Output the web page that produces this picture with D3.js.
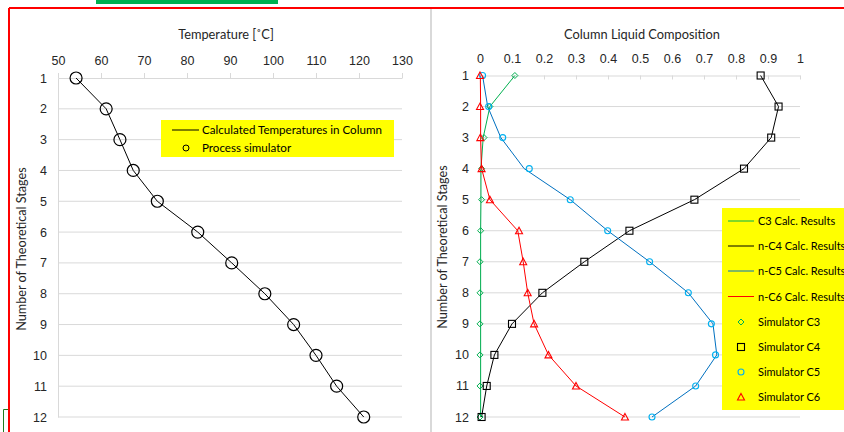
<!DOCTYPE html>
<html lang="en">
<head>
    <meta charset="UTF-8">
    <title>Column Temperature and Liquid Composition</title>
    <style>
        body {
            margin: 0;
            padding: 0;
            background: #fff;
        }

        svg {
            display: block;
            font-family: Lato, "Open Sans", Arial, sans-serif;
        }

        .tick text {
            fill: #262626;
            font-size: 12.5px;
        }

        .grid line, .grid path {
            stroke: #d9d9d9;
        }

        .chart-title, .axis-title {
            fill: #262626;
            font-size: 12.8px;
        }

        .axis-title {
            font-size: 12.6px;
        }

        .legend text {
            fill: #000;
            font-size: 11.6px;
        }

        .legend.comp text {
            font-size: 11px;
        }
    </style>
</head>
<body>
<svg id="chart" width="844" height="432"></svg>

<script src="https://d3js.org/d3.v7.min.js"></script>
<script>
    // ---- data ----
    var stages = [1, 2, 3, 4, 5, 6, 7, 8, 9, 10, 11, 12];

    var tempTicks = [50, 60, 70, 80, 90, 100, 110, 120, 130];
    var tempCalc = [54.2, 61.2, 64.4, 67.5, 73.1, 82.5, 90.4, 98.1, 104.8, 110.0, 114.8, 121.1];
    var tempSim = [54.2, 61.2, 64.4, 67.5, 73.1, 82.5, 90.4, 98.1, 104.8, 110.0, 114.8, 121.1];

    var compTicks = [0, 0.1, 0.2, 0.3, 0.4, 0.5, 0.6, 0.7, 0.8, 0.9, 1];

    var c3Calc = [0.109, 0.031, 0.010, 0.003, 0.003, 0.002, 0.002, 0.002, 0.002, 0.002, 0.002, 0.002];
    var c4Calc = [0.877, 0.933, 0.910, 0.825, 0.670, 0.467, 0.326, 0.195, 0.100, 0.045, 0.021, 0.005];
    var c5Calc = [0.008, 0.024, 0.065, 0.138, 0.282, 0.399, 0.530, 0.651, 0.728, 0.740, 0.674, 0.5375];
    var c6Calc = [0.001, 0.002, 0.002, 0.005, 0.031, 0.118, 0.135, 0.149, 0.169, 0.214, 0.300, 0.453];

    var c3Sim = [0.109, 0.031, 0.0125, 0.005, 0.005, 0.002, 0.0, 0.0, 0.0, 0.0, 0.0, 0.0];
    var c4Sim = [0.877, 0.933, 0.910, 0.825, 0.670, 0.467, 0.326, 0.195, 0.100, 0.045, 0.021, 0.005];
    var c5Sim = [0.008, 0.027, 0.071, 0.154, 0.282, 0.399, 0.530, 0.651, 0.723, 0.736, 0.674, 0.5375];
    var c6Sim = [0.0, 0.0, 0.001, 0.005, 0.031, 0.122, 0.135, 0.149, 0.169, 0.214, 0.300, 0.453];

    var compNames = ["C3 Calc. Results", "n-C4 Calc. Results", "n-C5 Calc. Results", "n-C6 Calc. Results",
        "Simulator C3", "Simulator C4", "Simulator C5", "Simulator C6"];

    var svg = d3.select("#chart");

    // page decorations (sheet borders)
    svg.append("rect").attr("x", 96).attr("y", 0).attr("width", 182).attr("height", 4).attr("fill", "#00b050");
    svg.append("line").attr("x1", 9).attr("x2", 844).attr("y1", 8).attr("y2", 8)
        .attr("stroke", "#ff0000").attr("stroke-width", 2);
    svg.append("line").attr("x1", 9).attr("x2", 9).attr("y1", 8).attr("y2", 432)
        .attr("stroke", "#ff0000").attr("stroke-width", 2);
    svg.append("path").attr("d", "M8,409.5H3.5V432").attr("fill", "none").attr("stroke", "#1e7b1e");
    svg.append("line").attr("x1", 431).attr("x2", 431).attr("y1", 9).attr("y2", 432)
        .attr("stroke", "#d9d9d9").attr("stroke-width", 2);

    function stageAxes(g, x, y, ticks, fmt, tickLen, titleX, titleY) {
        var x0 = x.range()[0], x1 = x.range()[1];
        // horizontal grid lines per stage
        g.append("g").attr("class", "grid")
            .selectAll("line").data(stages.slice(1)).enter().append("line")
            .attr("x1", x0).attr("x2", x1)
            .attr("y1", d => y(d)).attr("y2", d => y(d));

        var top = g.append("g").attr("class", "grid")
            .attr("transform", "translate(0," + y(1) + ")")
            .call(d3.axisTop(x).tickValues(ticks).tickFormat(fmt).tickSizeInner(tickLen).tickSizeOuter(0).tickPadding(tickLen > 0 ? 8 : 13));
        top.selectAll(".tick text").attr("font-family", "inherit");

        var left = g.append("g").attr("class", "grid")
            .attr("transform", "translate(" + x0 + ",0)")
            .call(d3.axisLeft(y).tickValues(stages).tickSize(0).tickPadding(11));
        left.selectAll(".tick text").attr("font-family", "inherit");

        g.append("text").attr("class", "axis-title")
            .attr("transform", "translate(" + titleX + "," + titleY + ") rotate(-90)")
            .attr("text-anchor", "middle")
            .text("Number of Theoretical Stages");
    }

    // ---- left chart: temperature ----
    var xT = d3.scaleLinear().domain([50, 130]).range([58, 402]);
    var yT = d3.scaleLinear().domain([1, 12]).range([78, 417]);
    var left = svg.append("g");
    stageAxes(left, xT, yT, tempTicks, d3.format("d"), 5, 26, 249);

    left.append("text").attr("class", "chart-title")
        .attr("x", 226).attr("y", 39).attr("text-anchor", "middle")
        .text("Temperature [˚C]");

    left.append("path")
        .datum(stages)
        .attr("fill", "none").attr("stroke", "#000").attr("stroke-width", 1)
        .attr("d", d3.line().x((d, i) => xT(tempCalc[i])).y(d => yT(d)));

    left.selectAll(".sim").data(stages).enter().append("circle")
        .attr("cx", (d, i) => xT(tempSim[i])).attr("cy", d => yT(d))
        .attr("r", 6).attr("fill", "none").attr("stroke", "#000").attr("stroke-width", 1.2);

    var lgL = left.append("g").attr("class", "legend");
    lgL.append("rect").attr("x", 161).attr("y", 120).attr("width", 233).attr("height", 37).attr("fill", "#ffff00");
    lgL.append("line").attr("x1", 172).attr("x2", 199).attr("y1", 130).attr("y2", 130).attr("stroke", "#000");
    lgL.append("text").attr("x", 202).attr("y", 134).text("Calculated Temperatures in Column");
    lgL.append("circle").attr("cx", 186).attr("cy", 148).attr("r", 3).attr("fill", "none").attr("stroke", "#000");
    lgL.append("text").attr("x", 202).attr("y", 152).text("Process simulator");

    // ---- right chart: composition ----
    var xC = d3.scaleLinear().domain([0, 1]).range([480, 800]);
    var yC = d3.scaleLinear().domain([1, 12]).range([75.5, 417]);
    var right = svg.append("g");
    stageAxes(right, xC, yC, compTicks, d => d === 0 || d === 1 ? String(d) : d3.format(".1f")(d), -4, 447, 247);

    right.append("text").attr("class", "chart-title")
        .attr("x", 642).attr("y", 39).attr("text-anchor", "middle")
        .text("Column Liquid Composition");

    var lineColors = ["#00b050", "#000000", "#0070c0", "#ff0000"];
    var markColors = ["#00b050", "#000000", "#00b0f0", "#ff0000"];
    var calcSeries = [c3Calc, c4Calc, c5Calc, c6Calc];
    var simSeries = [c3Sim, c4Sim, c5Sim, c6Sim];

    var compLine = d3.line().x(d => xC(d[1])).y(d => yC(d[0]));
    calcSeries.forEach(function (vals, k) {
        right.append("path")
            .datum(stages.map((s, i) => [s, vals[i]]))
            .attr("fill", "none").attr("stroke", lineColors[k]).attr("stroke-width", 1)
            .attr("d", compLine);
    });

    function marker(g, k, cx, cy) {
        var c = markColors[k];
        if (k === 0) {
            g.append("path").attr("d", "M" + cx + "," + (cy - 3) + "l3,3l-3,3l-3,-3z")
                .attr("fill", "none").attr("stroke", c).attr("stroke-width", 1);
        } else if (k === 1) {
            g.append("rect").attr("x", cx - 3.5).attr("y", cy - 3.5).attr("width", 7).attr("height", 7)
                .attr("fill", "none").attr("stroke", c).attr("stroke-width", 1.1);
        } else if (k === 2) {
            g.append("circle").attr("cx", cx).attr("cy", cy).attr("r", 3)
                .attr("fill", "none").attr("stroke", c).attr("stroke-width", 1.1);
        } else {
            g.append("path").attr("d", "M" + cx + "," + (cy - 3.5) + "l3.5,6.5h-7z")
                .attr("fill", "none").attr("stroke", c).attr("stroke-width", 1.1);
        }
    }

    simSeries.forEach(function (vals, k) {
        stages.forEach(function (s, i) {
            marker(right, k, xC(vals[i]), yC(s));
        });
    });

    var lgR = right.append("g").attr("class", "legend comp");
    lgR.append("rect").attr("x", 722).attr("y", 208).attr("width", 140).attr("height", 202).attr("fill", "#ffff00");
    var rowY = [221, 246, 271, 296.5, 322, 347, 372, 397];
    compNames.forEach(function (name, i) {
        var ry = rowY[i];
        if (i < 4) {
            lgR.append("line").attr("x1", 728).attr("x2", 754).attr("y1", ry).attr("y2", ry)
                .attr("stroke", lineColors[i]);
        } else {
            marker(lgR, i - 4, 741, ry);
        }
        lgR.append("text").attr("x", 758).attr("y", ry + 4).text(name);
    });
</script>
</body>
</html>
